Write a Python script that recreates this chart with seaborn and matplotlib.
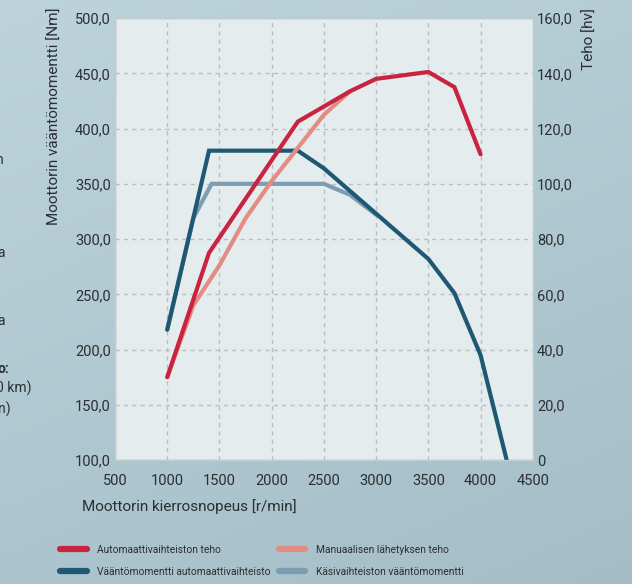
import numpy as np
import pandas as pd
import seaborn as sns
import matplotlib.pyplot as plt
from matplotlib.lines import Line2D

# data
rpm_auto_power = [1000, 1400, 2250, 2750, 3000, 3500, 3750, 4000]
auto_power = [30, 75, 122.5, 133.5, 138, 140.5, 135, 110.7]

rpm_manual_power = [1000, 1250, 1500, 1750, 2000, 2250, 2500, 2750]
manual_power = [30, 56, 70.5, 87.5, 101, 113, 125, 133.5]

rpm_auto_torque = [1000, 1400, 2250, 2500, 3000, 3500, 3750, 4000, 4250]
auto_torque = [218, 380, 380, 364, 323, 282, 251, 195, 100]

rpm_manual_torque = [1000, 1250, 1425, 2500, 2750, 3000]
manual_torque = [218, 319, 350, 350, 340, 322]

labels = ["Automaattivaihteiston teho", "Manuaalisen lähetyksen teho",
          "Vääntömomentti automaattivaihteisto", "Käsivaihteiston vääntömomentti"]
colors = ["#c8233f", "#e28c83", "#1e5873", "#7d9db3"]

x_ticks = [500, 1000, 1500, 2000, 2500, 3000, 3500, 4000, 4500]
left_ticks = [100, 150, 200, 250, 300, 350, 400, 450, 500]
left_labels = ["100,0", "150,0", "200,0", "250,0", "300,0", "350,0", "400,0", "450,0", "500,0"]
right_ticks = [0, 20, 40, 60, 80, 100, 120, 140, 160]
right_labels = ["0", "20,0", "40,0", "60,0", "80,0", "100,0", "120,0", "140,0", "160,0"]

sns.set_style("white")
fam = ["Roboto", "DejaVu Sans"]
plt.rcParams['font.family'] = fam
text_col = "#2b2f33"

fig = plt.figure(figsize=(6.32, 5.84), dpi=100)

# background gradient
bg = fig.add_axes([0, 0, 1, 1], zorder=-10)
yy, xx = np.mgrid[0:1:200j, 0:1:200j]
g = 0.55 * yy + 0.25 * xx
c_top = np.array([0.74, 0.83, 0.86])
c_bot = np.array([0.62, 0.72, 0.76])
img = c_top[None, None, :] * (1 - g[..., None]) + c_bot[None, None, :] * g[..., None]
bg.imshow(img, aspect="auto", extent=[0, 1, 0, 1])
bg.axis("off")

ax = fig.add_axes([0.182, 0.2123, 0.661, 0.7567])
ax.set_facecolor("#e5ecee")
ax2 = ax.twinx()

sns.lineplot(x=rpm_manual_torque, y=manual_torque, ax=ax, color=colors[3], lw=3,
             sort=False, solid_capstyle="round", solid_joinstyle="miter", zorder=3)
sns.lineplot(x=rpm_auto_torque, y=auto_torque, ax=ax, color=colors[2], lw=3,
             sort=False, solid_capstyle="round", solid_joinstyle="miter", zorder=4)
sns.lineplot(x=rpm_manual_power, y=manual_power, ax=ax2, color=colors[1], lw=3,
             sort=False, solid_capstyle="round", solid_joinstyle="miter", zorder=3)
sns.lineplot(x=rpm_auto_power, y=auto_power, ax=ax2, color=colors[0], lw=3,
             sort=False, solid_capstyle="round", solid_joinstyle="miter", zorder=4)

ax.set_xlim(500, 4500)
ax.set_ylim(100, 500)
ax2.set_ylim(0, 160)

ax.set_xticks(x_ticks)
ax.set_xticklabels([str(v) for v in x_ticks], fontsize=10.5, color=text_col)
ax.set_yticks(left_ticks)
ax.set_yticklabels(left_labels, fontsize=10.5, color=text_col)
ax2.set_yticks(right_ticks)
ax2.set_yticklabels(right_labels, fontsize=10.5, color=text_col)
ax.tick_params(axis="y", length=0, pad=3)
ax.tick_params(axis="x", length=0, pad=10)
ax2.tick_params(length=0, pad=3)

ax.grid(True, color="#b9bec2", linestyle=(0, (3, 3)), lw=1)
ax.set_axisbelow(True)
for a in (ax, ax2):
    for s in a.spines.values():
        s.set_color("#c3cacd")
        s.set_linewidth(1)
ax2.spines["right"].set_visible(False)

ax.set_xlabel("Moottorin kierrosnopeus [r/min]", fontsize=11, color=text_col)
ax.xaxis.set_label_coords(-0.079, -0.088)
ax.xaxis.label.set_ha("left")
ax.xaxis.label.set_va("top")

ax.set_ylabel("Moottorin vääntömomentti [Nm]", fontsize=11, color=text_col)
ax2.set_ylabel("Teho [hv]", fontsize=11, color=text_col)
for a, xpos in ((ax, -0.1435), (ax2, 1.136)):
    a.yaxis.set_label_coords(xpos, 1.023)
    lab = a.yaxis.label
    lab.set_rotation_mode("default")
    lab.set_ha("center")
    lab.set_va("top")

handles = [Line2D([], [], color=colors[i], lw=4.5, solid_capstyle="round") for i in range(4)]
order = [0, 2, 1, 3]
fig.legend([handles[i] for i in order], [labels[i] for i in order], ncol=2,
           loc="lower left", bbox_to_anchor=(0.08, -0.004), frameon=False,
           prop={"family": fam, "size": 7.4},
           handlelength=2.6, handletextpad=1.0, columnspacing=0.8, labelspacing=1.2,
           labelcolor=text_col)

# clipped text from the neighbouring page column
side_texts = [("n", 0.72, -4), ("a", 0.56, -3), ("a", 0.444, -3), ("o:", 0.362, -3),
              ("0 km)", 0.328, -4), ("n)", 0.292, -2)]
for t, yv, xpx in side_texts:
    fig.text(xpx / 632, yv, t, fontsize=10, color=text_col,
             weight="bold" if t == "o:" else "normal")

fig.savefig("out.png", dpi=100)
